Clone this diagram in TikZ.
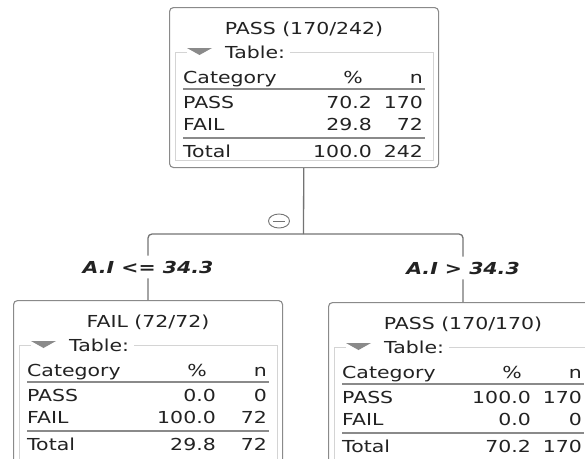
\documentclass[tikz,border=0pt]{standalone}
\usepackage{fontspec}
\setmainfont{DejaVu Sans}[FakeStretch=1.24]
\usetikzlibrary{shapes.geometric}

\definecolor{boxline}{HTML}{8A8A8A}
\definecolor{frameline}{HTML}{D4D4D4}
\definecolor{treeink}{HTML}{222222}

\newcommand{\treefont}{\fontsize{16.5}{18}\selectfont}

\tikzstyle{treebox}=[draw=boxline, line width=1.1pt, rounded corners=4pt, fill=white, inner sep=0pt, anchor=north west]
\tikzstyle{tableframe}=[draw=frameline, line width=0.9pt]
\tikzstyle{tablerule}=[draw=boxline, line width=1.1pt]
\tikzstyle{cell}=[inner sep=0pt, text=treeink]
\tikzstyle{branch}=[draw=black!55, line width=1.3pt]
\tikzstyle{split}=[fill=white, inner xsep=1pt, inner ysep=5pt, text=treeink, font=\treefont\bfseries\itshape]
\tikzstyle{fold}=[ellipse, draw=black!55, line width=0.9pt, minimum width=21pt, minimum height=14pt, inner sep=0pt]

\begin{document}
\begin{tikzpicture}[x=1pt, y=-1pt, font=\treefont]
    \useasboundingbox (0,0) rectangle (585,458);
    \clip (0,0) rectangle (585,458);

    % one box per tree node: name/x/y/height/title/values
    \foreach \name/\x/\y/\h/\title/\pp/\pn/\fp/\fn/\tp/\tn in {
            root/169/7/160/{PASS (170/242)}/70.2/170/29.8/72/100.0/242,
            left/13/300/175/{FAIL (72/72)}/0.0/0/100.0/72/29.8/72,
            right/328/302/175/{PASS (170/170)}/100.0/170/0.0/0/70.2/170}
    {
        \begin{scope}[shift={(\x,\y)}]
            \node[treebox, minimum width=269pt, minimum height=\h pt] (\name) at (0,0) {};
            \node[cell, anchor=base] (\name-title) at (135,27) {\title};
            % the table with its legend
            \node[cell, anchor=base west] (\name-legend) at (56,51) {Table:};
            \draw[tableframe] (18,45) -- (6,45) -- (6,\h-7) -- (264,\h-7) -- (264,45) -- ([xshift=5pt]\name-legend.east |- 0,45);
            \fill[boxline] (18,41) -- (43,41) -- (30.5,48) -- cycle;
            \node[cell, anchor=base west] (\name-cat) at (14,76) {Category};
            \node[cell, anchor=base] (\name-pct) at (184,76) {\%};
            \node[cell, anchor=base east] (\name-n) at (254,76) {n};
            \draw[tablerule] (14,82) -- (256,82);
            \node[cell, anchor=base west] (\name-pass) at (14,101) {PASS};
            \node[cell, anchor=base east] (\name-passp) at (203,101) {\pp};
            \node[cell, anchor=base east] (\name-passn) at (254,101) {\pn};
            \node[cell, anchor=base west] (\name-fail) at (14,123) {FAIL};
            \node[cell, anchor=base east] (\name-failp) at (203,123) {\fp};
            \node[cell, anchor=base east] (\name-failn) at (254,123) {\fn};
            \draw[tablerule] (14,131) -- (256,131);
            \node[cell, anchor=base west] (\name-total) at (14,150) {Total};
            \node[cell, anchor=base east] (\name-totalp) at (203,150) {\tp};
            \node[cell, anchor=base east] (\name-totaln) at (254,150) {\tn};
        \end{scope}
    }

    % the split and its two branches
    \coordinate (junction) at (303.5,234);
    \node[split] (lo) at (148,267) {A.I <= 34.3};
    \node[split] (hi) at (463,268) {A.I > 34.3};
    \draw[branch] (root) -- (junction);
    \draw[branch, rounded corners=4pt] (lo) |- (junction) -| (hi);
    \draw[branch] (lo) -- (left);
    \draw[branch] (hi) -- (right);

    \node[fold] (collapse) at (279,221) {};
    \draw[draw=black!55, line width=0.9pt] ([xshift=5pt]collapse.west) -- ([xshift=-5pt]collapse.east);
\end{tikzpicture}
\end{document}
